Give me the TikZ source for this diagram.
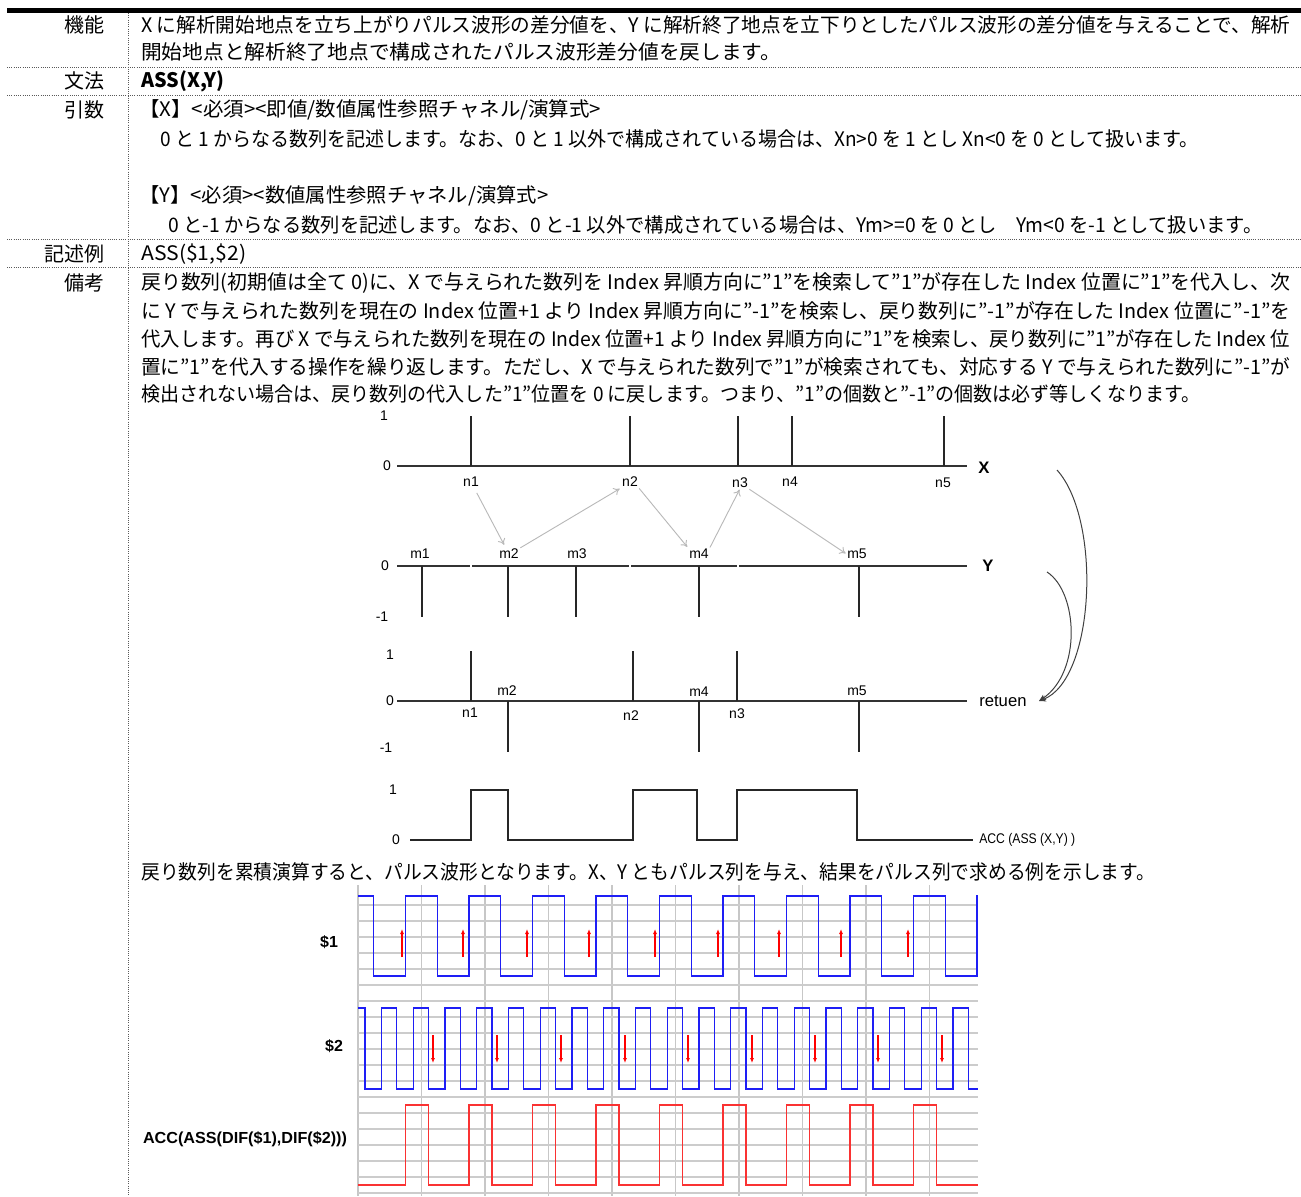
\documentclass[tikz,border=0pt]{standalone}
\usepackage{fontspec}
\usepackage{graphicx}
\setmainfont{Noto Sans CJK JP}
\newfontfamily\arf{Liberation Sans}
\usetikzlibrary{arrows.meta,calc}
\newdimen\pxu \pxu=0.75pt
\newcommand\fitw[2]{\resizebox{#1\pxu}{\height}{#2}}
\newcommand\jpsz{\fontsize{15}{18}\selectfont}
\definecolor{wblue}{RGB}{30,30,245}
\definecolor{wred}{RGB}{250,50,50}
\begin{document}
\begin{tikzpicture}[x=0.75pt,y=-0.75pt,
  jt/.style={font=\jpsz, anchor=west, inner sep=0pt},
  lab/.style={font=\jpsz, anchor=east, inner sep=0pt},
  dotline/.style={densely dotted, black!65, line width=0.675pt},
  axl/.style={line width=0.825pt, black!80},
  tick/.style={line width=0.975pt, black!85},
  sl/.style={font=\arf\fontsize{10.5}{12}\selectfont, inner sep=0.375pt},
  al/.style={font=\arf\fontsize{10.5}{12}\selectfont, inner sep=0pt},
  garr/.style={-{To[length=4.5pt,width=6pt]}, black!28, line width=0.675pt},
  curv/.style={black!75, line width=0.75pt, -{Stealth[length=5.25pt,width=4.5pt,fill=black]}},
  gridv/.style={black!22, line width=1.2pt},
  gridh/.style={black!20, line width=0.975pt},
  bw/.style={wblue, line width=0.975pt},
  rw/.style={wred, line width=0.975pt},
  rarr/.style={red, line width=0.9pt, -{Latex[length=3.75pt,width=3pt]}},
  cl/.style={font=\arf\bfseries\fontsize{12}{14}\selectfont, inner sep=0pt}
]
\useasboundingbox (0,0) rectangle (1301,1196);
\fill[white] (0,0) rectangle (1301,1196);

% ---------- table frame ----------
\draw[line width=3.75pt] (7,10) -- (1301,10);
\draw[dotline] (128,13) -- (128,1196);
\foreach \yy in {67,95,239,267} \draw[dotline] (7,\yy) -- (1301,\yy);

% ---------- row labels ----------
\node[lab] (l1) at (105,25) {機能};
\node[lab] (l2) at (105,81) {文法};
\node[lab] (l3) at (105,110) {引数};
\node[lab] (l4) at (105,254) {記述例};
\node[lab] (l5) at (105,283) {備考};

% ---------- texts ----------
\node[jt] (t1) at (141,25) {\fitw{1149}{X に解析開始地点を立ち上がりパルス波形の差分値を、Y に解析終了地点を立下りとしたパルス波形の差分値を与えることで、解析}};
\node[jt] (t2) at (141,52) {\fitw{640}{開始地点と解析終了地点で構成されたパルス波形差分値を戻します。}};
\node[jt] (t3) at (141,81) {\fitw{83}{\bfseries ASS(X,Y)}};
\node[jt] (t4) at (139,110) {\fitw{462}{【X】<必須><即値/数値属性参照チャネル/演算式>}};
\node[jt] (t5) at (160,139) {\fitw{1038}{0 と 1 からなる数列を記述します。なお、0 と 1 以外で構成されている場合は、Xn>0 を 1 とし Xn<0 を 0 として扱います。}};
\node[jt] (t6) at (139,196) {\fitw{409}{【Y】<必須><数値属性参照チャネル/演算式>}};
\node[jt] (t7) at (168,225) {\fitw{1094}{0 と-1 からなる数列を記述します。なお、0 と-1 以外で構成されている場合は、Ym>=0 を 0 とし　Ym<0 を-1 として扱います。}};
\node[jt] (t8) at (141,254) {\fitw{105}{ASS(\$1,\$2)}};
\node[jt] (t9) at (141,283) {\fitw{1149}{戻り数列(初期値は全て 0)に、X で与えられた数列を Index 昇順方向に”1”を検索して”1”が存在した Index 位置に”1”を代入し、次}};
\node[jt] (t10) at (141,311) {\fitw{1149}{に Y で与えられた数列を現在の Index 位置+1 より Index 昇順方向に”-1”を検索し、戻り数列に”-1”が存在した Index 位置に”-1”を}};
\node[jt] (t11) at (141,339) {\fitw{1149}{代入します。再び X で与えられた数列を現在の Index 位置+1 より Index 昇順方向に”1”を検索し、戻り数列に”1”が存在した Index 位}};
\node[jt] (t12) at (141,367) {\fitw{1149}{置に”1”を代入する操作を繰り返します。ただし、X で与えられた数列で”1”が検索されても、対応する Y で与えられた数列に”-1”が}};
\node[jt] (t13) at (141,394) {\fitw{1059}{検出されない場合は、戻り数列の代入した”1”位置を 0 に戻します。つまり、”1”の個数と”-1”の個数は必ず等しくなります。}};
\node[jt] (t14) at (141,872) {\fitw{1014}{戻り数列を累積演算すると、パルス波形となります。X、Y ともパルス列を与え、結果をパルス列で求める例を示します。}};

% ---------- X block ----------
\node[al] (x1) at (384,416) {1};
\node[al] (x0) at (387,466) {0};
\draw[axl] (397,466) -- (967,466);
\foreach \xx in {471,630,738,792,944} \draw[tick] (\xx,416) -- (\xx,466);
\node[sl] (n1) at (471,482) {n1};
\node[sl] (n2) at (630,482) {n2};
\node[sl] (n3) at (740,483) {n3};
\node[sl] (n4) at (790,482) {n4};
\node[sl] (n5) at (943,483) {n5};
\node[font=\arf\bfseries\fontsize{12.5}{14}\selectfont, inner sep=0pt] (X) at (984,468) {X};

% ---------- Y block ----------
\node[al] (y0) at (385,566) {0};
\node[al] (ym) at (382,617) {-1};
\draw[axl] (397,566) -- (470,566) (472,566) -- (629,566) (631,566) -- (737,566) (739,566) -- (967,566);
\foreach \xx in {422,508,576,699,859} \draw[tick] (\xx,566) -- (\xx,617);
\node[sl] (m1) at (420,554) {m1};
\node[sl] (m2) at (509,554) {m2};
\node[sl] (m3) at (577,554) {m3};
\node[sl] (m4) at (699,554) {m4};
\node[sl] (m5) at (857,554) {m5};
\node[font=\arf\bfseries\fontsize{12.5}{14}\selectfont, inner sep=0pt] (Y) at (988,566) {Y};

% gray arrows
\draw[garr, shorten <=4.5pt, shorten >=3pt] (n1) -- (m2);
\draw[garr, shorten <=0.75pt, shorten >=1.5pt] (m2.north east) -- (n2.south west);
\draw[garr, shorten <=0.75pt, shorten >=1.5pt] (n2.south east) -- (m4.north west);
\draw[garr, shorten <=0.75pt, shorten >=0.75pt] (m4.north east) -- (n3.south);
\draw[garr, shorten <=0.75pt, shorten >=0.75pt] (n3.south east) -- (m5.west);

% ---------- return block ----------
\node[al] (r1) at (390,655) {1};
\node[al] (r0) at (390,701) {0};
\node[al] (rm) at (386,748) {-1};
\draw[axl] (397,701) -- (967,701);
\foreach \xx in {471,633,737} \draw[tick] (\xx,651) -- (\xx,701);
\foreach \xx in {508,699,859} \draw[tick] (\xx,701) -- (\xx,752);
\node[sl] (rm2) at (507,691) {m2};
\node[sl] (rm4) at (699,692) {m4};
\node[sl] (rm5) at (857,691) {m5};
\node[sl] (rn1) at (470,713) {n1};
\node[sl] (rn2) at (631,716) {n2};
\node[sl] (rn3) at (737,714) {n3};
\node[font=\arf\fontsize{12.5}{14}\selectfont, inner sep=0pt, anchor=west] (ret) at (979,701) {retuen};
\coordinate (rtip) at (1039,701);
\coordinate (cx) at (1057,470);
\coordinate (cy) at (1047,572);
\draw[curv] (cx) .. controls (1102,520) and (1095,680) .. (rtip);
\draw[curv] (cy) .. controls (1078,592) and (1082,672) .. (rtip);

% ---------- ACC block ----------
\node[al] (a1) at (393,790) {1};
\node[al] (a0) at (396,840) {0};
\draw[tick] (410,840) -- (471,840) -- (471,790) -- (508,790) -- (508,840) -- (633,840) -- (633,790) -- (697,790) -- (697,840) -- (737,840) -- (737,790) -- (857,790) -- (857,840) -- (973,840);
\node[font=\arf\fontsize{10.5}{12}\selectfont, inner sep=0pt, anchor=west] (accl) at (979,840) {\fitw{96}{ACC (ASS (X,Y) )}};

% ---------- bottom chart ----------
\foreach \k in {0,...,9} \draw[gridv] ({358+63.5*\k},885) -- ({358+63.5*\k},1196);
\foreach \k in {0,...,18} \draw[gridh] (358,{905+16*\k}) -- (978,{905+16*\k});

\draw[bw] (358,896) foreach \k in {0,...,9} { -- ({373.7+63.5*\k},896) -- ({373.7+63.5*\k},976) -- ({405.5+63.5*\k},976) -- ({405.5+63.5*\k},896) } -- (978,896);
\draw[bw] (358,1008) foreach \k in {0,...,18} { -- ({365+31.75*\k},1008) -- ({365+31.75*\k},1089) -- ({381.5+31.75*\k},1089) -- ({381.5+31.75*\k},1008) } -- (968.25,1008) -- (968.25,1089) -- (978,1089);
\draw[rw] (358,1185) foreach \k in {0,...,8} { -- ({405.5+63.5*\k},1185) -- ({405.5+63.5*\k},1105) -- ({428.5+63.5*\k},1105) -- ({428.5+63.5*\k},1185) } -- (978,1185);

\foreach \xx in {402,463,527,589,655,718,779,841,908} \draw[rarr] (\xx,957) -- (\xx,929);
\foreach \xx in {433,497,561,625,688,752,815,878,942} \draw[rarr] (\xx,1035) -- (\xx,1063);

\node[cl] (s1) at (329,942) {\$1};
\node[cl] (s2) at (334,1046) {\$2};
\node[cl] (s3) at (245,1139) {\fitw{204}{ACC(ASS(DIF(\$1),DIF(\$2)))}};
\end{tikzpicture}
\end{document}
